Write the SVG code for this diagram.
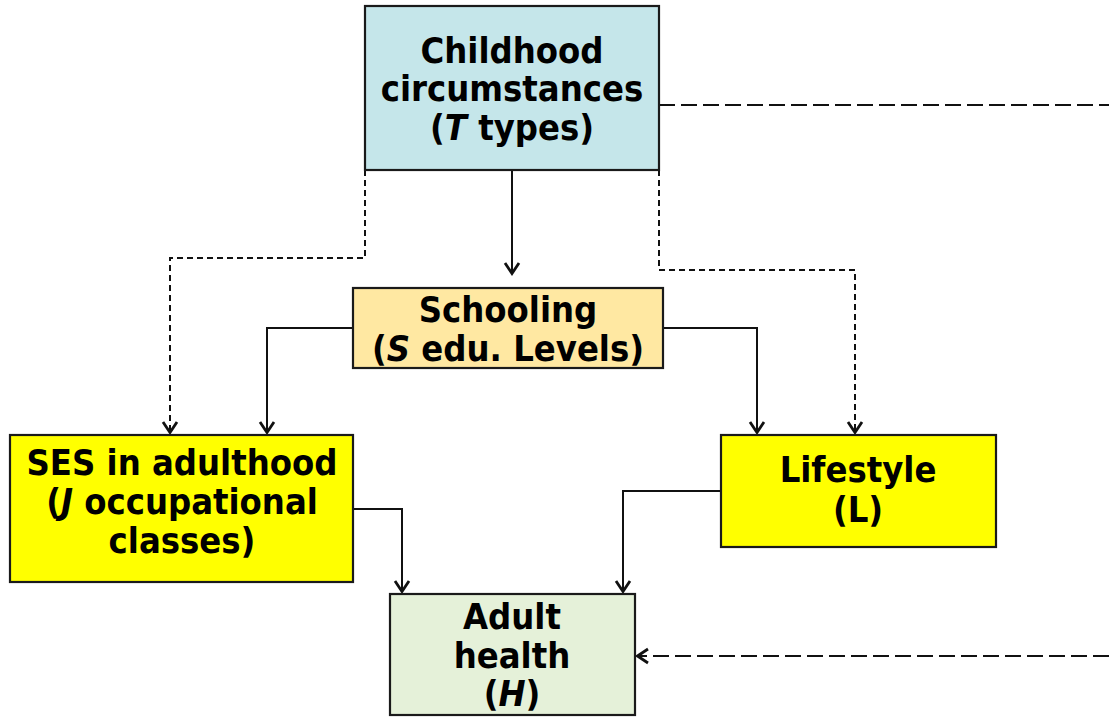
<svg xmlns="http://www.w3.org/2000/svg" width="1109" height="718" viewBox="0 0 1109 718">
<style>
.box{stroke:#1a1a1a;stroke-width:2.2}
.t{font-family:"DejaVu Sans Condensed","DejaVu Sans",sans-serif;font-stretch:condensed;font-weight:bold;font-size:36px;fill:#000;text-anchor:middle}
.i{font-style:italic}
.c{fill:none;stroke:#111;stroke-width:2}
.d{stroke-dasharray:6 4}
.dl{stroke-dasharray:16 6}
</style>
<defs>
<marker id="arr" viewBox="0 0 14 18" refX="12.5" refY="9" markerWidth="14" markerHeight="18" markerUnits="userSpaceOnUse" orient="auto">
<path d="M1.5,2 L12,9 L1.5,16" fill="none" stroke="#111" stroke-width="2.8"/>
</marker>
</defs>
<rect width="1109" height="718" fill="#fff"/>
<g id="connectors">
<path class="c" d="M512,170 V274" marker-end="url(#arr)"/>
<path class="c" d="M353,328 H267 V433" marker-end="url(#arr)"/>
<path class="c" d="M663,328 H757 V433" marker-end="url(#arr)"/>
<path class="c d" d="M365,170 V258 H170 V433" marker-end="url(#arr)"/>
<path class="c d" d="M659,170 V270 H855 V433" marker-end="url(#arr)"/>
<path class="c" d="M353,509 H402 V592" marker-end="url(#arr)"/>
<path class="c" d="M721,491 H623 V592" marker-end="url(#arr)"/>
<path class="c dl" d="M659,105 H1109"/>
<path class="c dl" d="M1109,656 H637" marker-end="url(#arr)"/>
</g>
<g id="childhood">
<rect class="box" x="365" y="6" width="294" height="164" fill="#c5e6ea"/>
<text class="t" x="512" y="63">Childhood</text>
<text class="t" x="512" y="101">circumstances</text>
<text class="t" x="512" y="140">(<tspan class="i">T</tspan> types)</text>
</g>
<g id="schooling">
<rect class="box" x="353" y="288" width="310" height="80" fill="#ffe8a2"/>
<text class="t" x="508" y="322">Schooling</text>
<text class="t" x="508" y="361">(<tspan class="i">S</tspan> edu. Levels)</text>
</g>
<g id="ses">
<rect class="box" x="10" y="435" width="343" height="147" fill="#ffff00"/>
<text class="t" x="182" y="475">SES in adulthood</text>
<text class="t" x="182" y="514">(<tspan class="i">J</tspan> occupational</text>
<text class="t" x="182" y="553">classes)</text>
</g>
<g id="lifestyle">
<rect class="box" x="721" y="435" width="275" height="112" fill="#ffff00"/>
<text class="t" x="858" y="482">Lifestyle</text>
<text class="t" x="858" y="522">(L)</text>
</g>
<g id="health">
<rect class="box" x="390" y="594" width="245" height="121" fill="#e5f1d9"/>
<text class="t" x="512" y="629">Adult</text>
<text class="t" x="512" y="668">health</text>
<text class="t" x="512" y="706">(<tspan class="i">H</tspan>)</text>
</g>
</svg>
